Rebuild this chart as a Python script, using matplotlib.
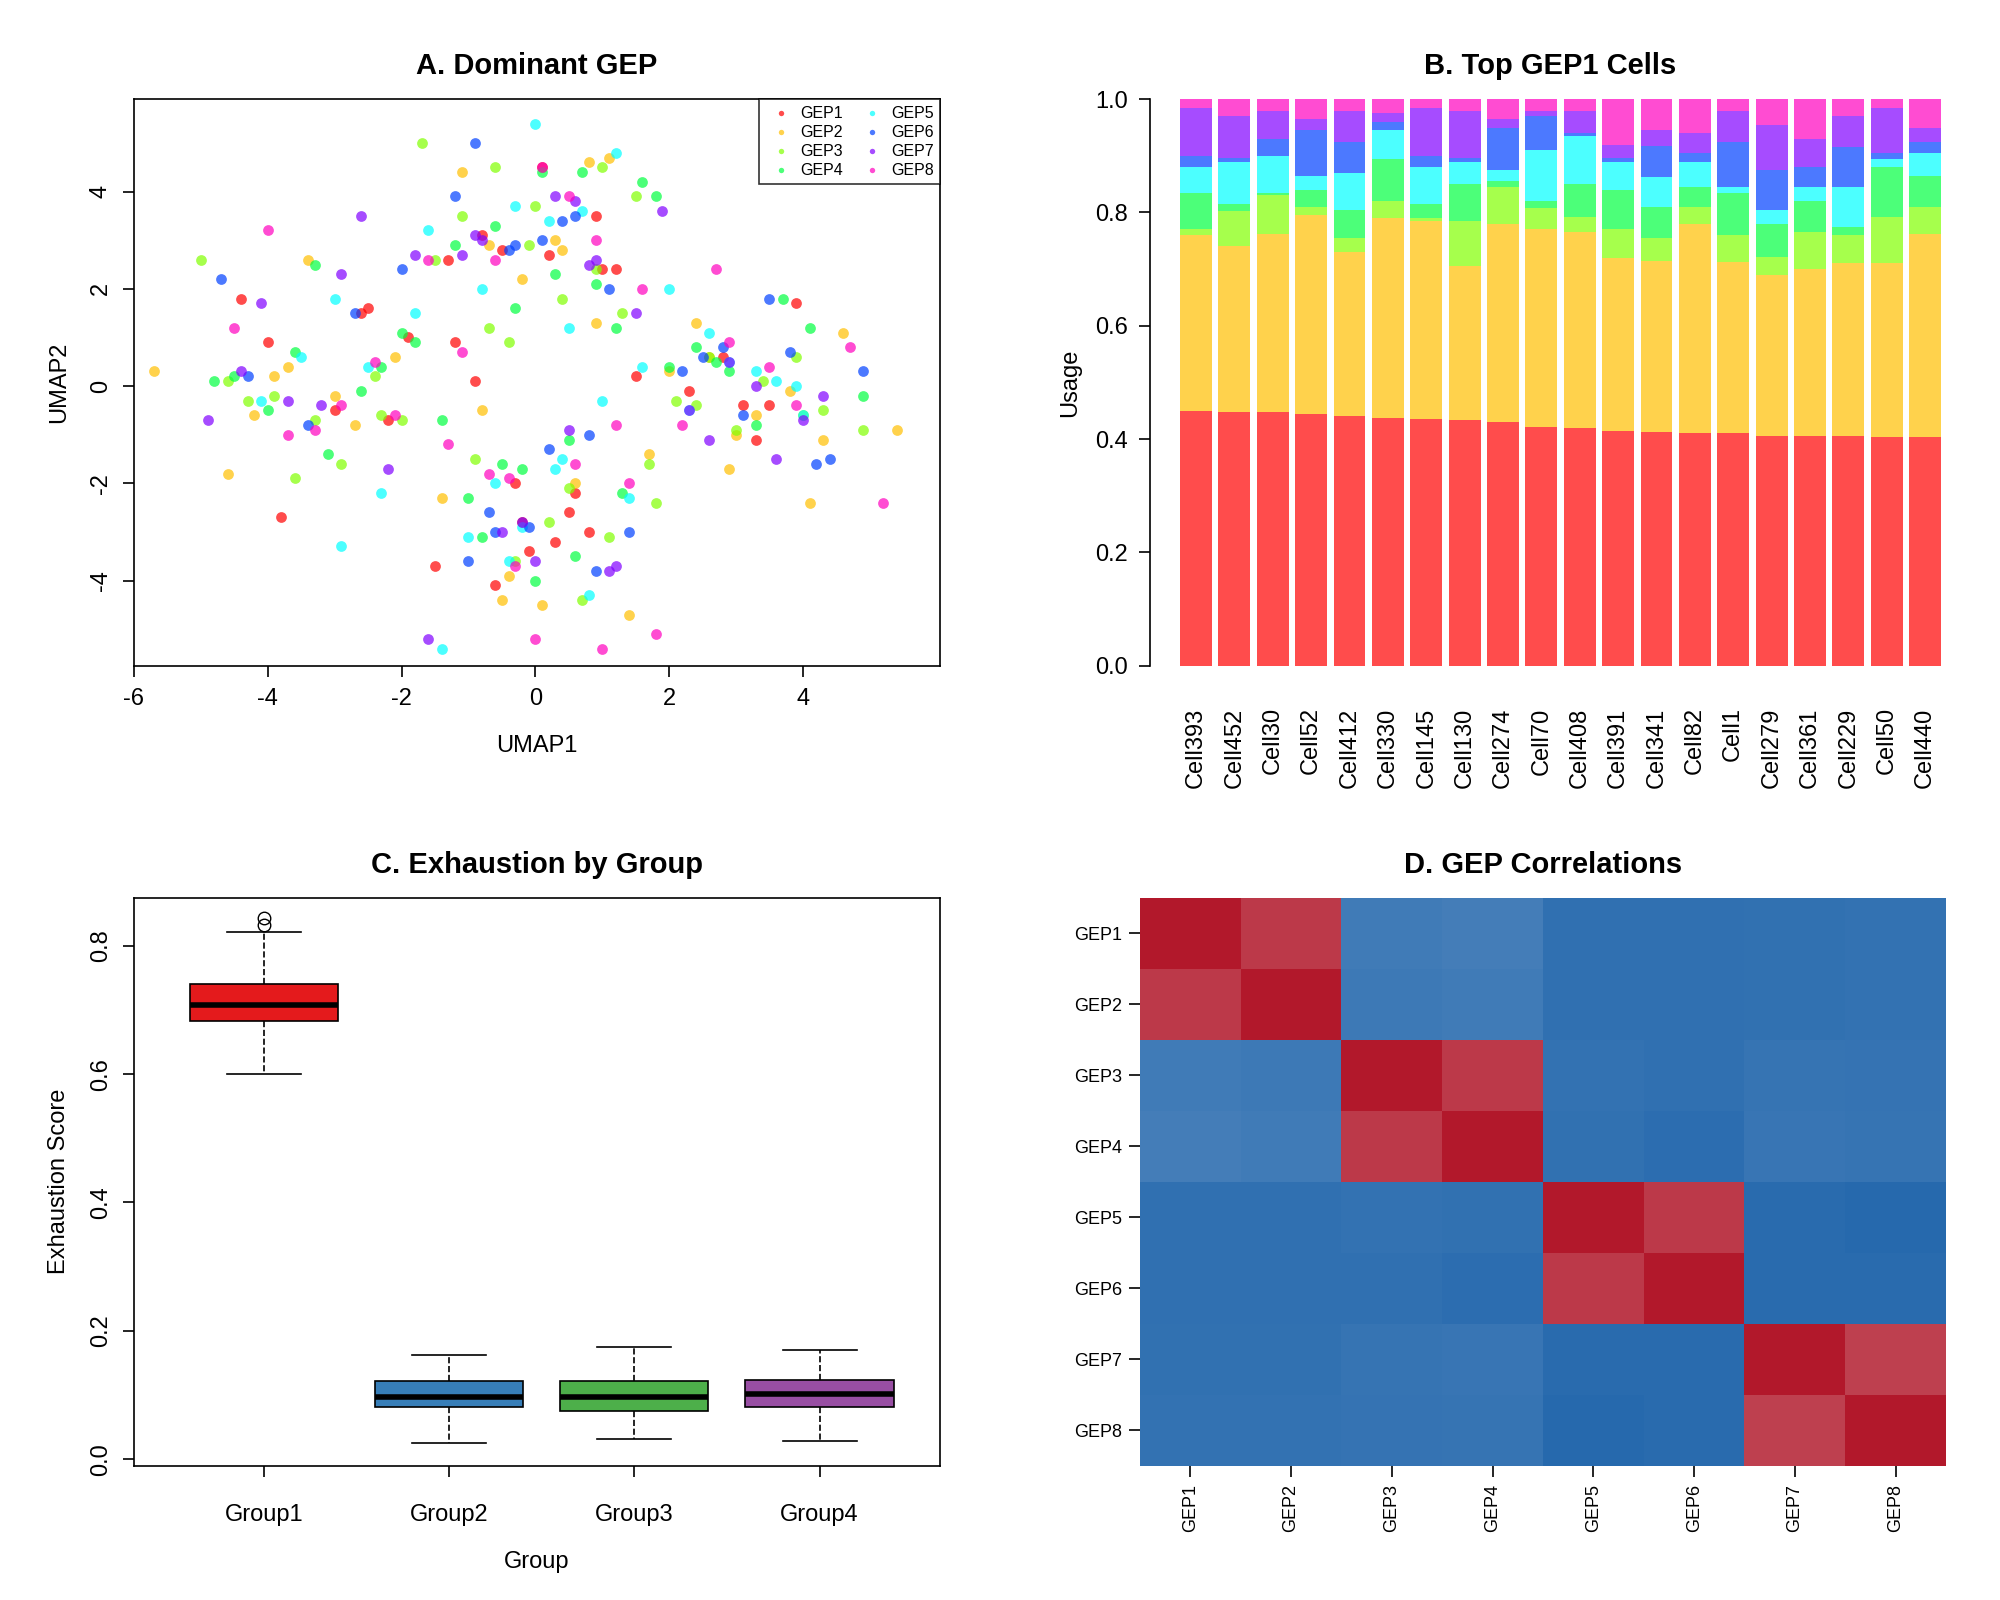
import numpy as np
import matplotlib.pyplot as plt
from matplotlib.colors import LinearSegmentedColormap

plt.rcParams['font.family'] = ['Liberation Sans', 'DejaVu Sans']
plt.rcParams['axes.unicode_minus'] = False

geps = ['GEP1', 'GEP2', 'GEP3', 'GEP4', 'GEP5', 'GEP6', 'GEP7', 'GEP8']
gep_colors = ['#FF0000', '#FFBF00', '#80FF00', '#00FF40', '#00FFFF', '#0040FF', '#8000FF', '#FF00BF']

# UMAP points per dominant GEP (read approximately)
umap_x = {
    'GEP1': [-4.4, -3.8, -2.5, -1.3, -0.5, 0.1, 0.9, 1.2, 2.8, 3.1, 3.3, -0.2, -0.6, -1.5, 0.3, 1.5, -2.2, -4.0, 3.9, -0.9, 0.6, -0.3,
             -3.0, -1.9, -0.8, 0.2, 0.5, 1.0, 2.3, 3.5, -2.6, -0.1, 0.8, -1.2],
    'GEP2': [-5.7, -4.2, -3.4, -2.1, -0.7, -0.2, 0.3, 0.8, 1.7, 2.4, 3.3, 4.3, 5.4, 0.1, -0.4, 2.9, 4.1, -1.4, 0.9, -3.0, 1.4, -0.8,
             -4.6, -3.7, -2.7, -1.1, 0.4, 1.1, 2.0, 3.0, 3.8, 4.6, -0.5, 0.6, -3.9, 2.6],
    'GEP3': [-5.0, -4.6, -3.9, -2.9, -2.3, -1.7, -1.1, -0.6, -0.4, 0.0, 0.4, 1.0, 1.5, 2.1, 2.6, 3.4, 4.0, 4.9, 1.8, -0.9, 0.2, -3.3, 0.7, 1.1,
             -4.3, -3.6, -2.4, -1.5, -0.7, -0.1, 0.9, 1.3, 2.4, 3.0, 3.9, 4.3, -2.0, -0.3, 0.5, 1.7],
    'GEP4': [-4.5, -3.6, -3.3, -2.6, -2.0, -1.2, -0.8, -0.3, 0.3, 0.7, 1.2, 1.8, 2.0, 2.9, 3.7, 4.9, -1.0, 0.0, 1.3, 2.4, -4.0, -0.5, 0.5,
             -4.8, -3.1, -2.3, -1.4, -0.6, 0.1, 0.9, 1.6, 2.7, 3.3, 4.1, -0.2, 0.6, -1.8],
    'GEP5': [-3.5, -2.9, -2.3, -1.8, -1.4, -0.8, -0.3, 0.0, 0.5, 1.2, 1.6, 2.0, 2.6, 3.3, 4.0, 0.3, -0.2, 1.0, -1.0, 0.8, -2.5, 3.6,
             -4.1, -3.0, -1.6, -0.6, 0.2, 0.7, 1.4, 2.3, 2.9, 3.9, -0.4, 0.4],
    'GEP6': [-4.7, -4.3, -2.7, -1.2, -0.9, -0.4, 0.1, 0.6, 1.1, 2.2, 2.8, 3.5, 4.2, 4.9, -0.1, 0.8, -0.6, 0.2, -1.0, 3.1,
             -3.4, -2.0, -0.7, 0.4, 1.4, 2.5, 3.8, 0.9, -0.3, 4.4],
    'GEP7': [-4.9, -4.1, -3.7, -2.6, -1.8, -0.8, 0.3, 0.8, 1.5, 1.9, 2.3, 3.6, 4.3, -0.2, 0.5, -1.6, 2.9, -2.9, 0.0, 1.1,
             -4.4, -3.2, -2.2, -1.1, -0.5, 0.6, 1.2, 2.6, 3.3, 0.9, -0.9, 4.0],
    'GEP8': [-4.0, -3.7, -2.9, -2.1, -1.6, -0.7, 0.1, 0.9, 1.4, 1.8, 2.7, 3.5, 4.7, 5.2, -0.3, 0.6, -1.1, 2.2, -0.4, 1.2,
             -4.5, -3.3, -2.4, -1.3, 0.0, 0.5, 1.6, 2.9, 3.9, -0.6, 1.0],
}
umap_y = {
    'GEP1': [1.8, -2.7, 1.6, 2.6, 2.8, 4.5, 3.5, 2.4, 0.6, -0.4, -1.1, -2.8, -4.1, -3.7, -3.2, 0.2, -0.7, 0.9, 1.7, 0.1, -2.2, -2.0,
             -0.5, 1.0, 3.1, 2.7, -2.6, 2.4, -0.1, -0.4, 1.5, -3.4, -3.0, 0.9],
    'GEP2': [0.3, -0.6, 2.6, 0.6, 2.9, 2.2, 3.0, 4.6, -1.4, 1.3, -0.6, -1.1, -0.9, -4.5, -3.9, -1.7, -2.4, -2.3, 1.3, -0.2, -4.7, -0.5,
             -1.8, 0.4, -0.8, 4.4, 2.8, 4.7, 0.3, -1.0, -0.1, 1.1, -4.4, -2.0, 0.2, 0.6],
    'GEP3': [2.6, 0.1, -0.2, -1.6, -0.6, 5.0, 3.5, 4.5, 0.9, 3.7, 1.8, 4.5, 3.9, -0.3, 0.6, 0.1, -0.6, -0.9, -2.4, -1.5, -2.8, -0.7, -4.4, -3.1,
             -0.3, -1.9, 0.2, 2.6, 1.2, 2.9, 2.4, 1.5, -0.4, -0.9, 0.6, -0.5, -0.7, -3.6, -2.1, -1.6],
    'GEP4': [0.2, 0.7, 2.5, -0.1, 1.1, 2.9, -3.1, 1.6, 2.3, 4.4, 1.2, 3.9, 0.4, 0.3, 1.8, -0.2, -2.3, -4.0, -2.2, 0.8, -0.5, -1.6, -1.1,
             0.1, -1.4, 0.4, -0.7, 3.3, 4.4, 2.1, 4.2, 0.5, -0.8, 1.2, -1.7, -3.5, 0.9],
    'GEP5': [0.6, -3.3, -2.2, 1.5, -5.4, 2.0, 3.7, 5.4, 1.2, 4.8, 0.4, 2.0, 1.1, 0.3, -0.6, -1.7, -2.9, -0.3, -3.1, -4.3, 0.4, 0.1,
             -0.3, 1.8, 3.2, -2.0, 3.4, 3.6, -2.3, -0.5, 0.5, 0.0, -3.6, -1.5],
    'GEP6': [2.2, 0.2, 1.5, 3.9, 5.0, 2.8, 3.0, 3.5, 2.0, 0.3, 0.8, 1.8, -1.6, 0.3, -2.9, -1.0, -3.0, -1.3, -3.6, -0.6,
             -0.8, 2.4, -2.6, 3.4, -3.0, 0.6, 0.7, -3.8, 2.9, -1.5],
    'GEP7': [-0.7, 1.7, -0.3, 3.5, 2.7, 3.0, 3.9, 2.5, 1.5, 3.6, -0.5, -1.5, -0.2, -2.8, -0.9, -5.2, 0.5, 2.3, -3.6, -3.8,
             0.3, -0.4, -1.7, 2.7, -3.0, 3.8, -3.7, -1.1, 0.0, 2.6, 3.1, -0.7],
    'GEP8': [3.2, -1.0, -0.4, -0.6, 2.6, -1.8, 4.5, 3.0, -2.0, -5.1, 2.4, 0.4, 0.8, -2.4, -3.7, -1.6, 0.7, -0.8, -1.9, -0.8,
             1.2, -0.9, 0.5, -1.2, -5.2, 3.9, 2.0, 0.9, -0.4, 2.6, -5.4],
}

# Panel B: top GEP1 cells, cumulative usage of GEP1..GEP7 (GEP8 fills to 1)
cells = ['Cell393', 'Cell452', 'Cell30', 'Cell52', 'Cell412', 'Cell330', 'Cell145', 'Cell130', 'Cell274', 'Cell70',
         'Cell408', 'Cell391', 'Cell341', 'Cell82', 'Cell1', 'Cell279', 'Cell361', 'Cell229', 'Cell50', 'Cell440']
usage_cum = [
    [.450, .760, .770, .835, .880, .900, .985],
    [.448, .740, .802, .815, .890, .896, .970],
    [.447, .762, .830, .835, .900, .930, .980],
    [.445, .795, .810, .840, .865, .945, .965],
    [.441, .730, .755, .805, .870, .925, .980],
    [.437, .790, .820, .895, .945, .960, .975],
    [.435, .785, .790, .815, .880, .900, .985],
    [.434, .705, .785, .850, .890, .896, .980],
    [.430, .780, .845, .855, .875, .950, .965],
    [.421, .770, .808, .820, .910, .970, .980],
    [.420, .765, .792, .850, .935, .940, .980],
    [.415, .720, .770, .840, .890, .896, .920],
    [.413, .715, .755, .810, .862, .918, .945],
    [.411, .780, .810, .845, .890, .905, .940],
    [.410, .712, .760, .835, .845, .925, .980],
    [.406, .690, .722, .780, .805, .875, .955],
    [.405, .700, .765, .820, .845, .880, .930],
    [.405, .710, .760, .775, .845, .915, .970],
    [.403, .710, .792, .880, .895, .905, .985],
    [.403, .762, .810, .865, .905, .925, .950],
]

# Panel C: box statistics per group
groups = ['Group1', 'Group2', 'Group3', 'Group4']
box_lo_whisk = [0.600, 0.025, 0.032, 0.028]
box_q1 = [0.682, 0.082, 0.075, 0.082]
box_med = [0.708, 0.097, 0.097, 0.102]
box_q3 = [0.740, 0.122, 0.122, 0.124]
box_hi_whisk = [0.822, 0.162, 0.175, 0.170]
box_outliers = [[0.843, 0.832], [], [], []]
group_colors = ['#E41A1C', '#377EB8', '#4DAF4A', '#984EA3']

# Panel D: GEP correlation matrix
corr = np.array([
    [1.00, 0.90, -0.20, -0.19, -0.25, -0.25, -0.245, -0.24],
    [0.90, 1.00, -0.21, -0.20, -0.25, -0.25, -0.245, -0.24],
    [-0.20, -0.21, 1.00, 0.90, -0.24, -0.25, -0.23, -0.235],
    [-0.19, -0.20, 0.90, 1.00, -0.245, -0.26, -0.225, -0.23],
    [-0.25, -0.25, -0.24, -0.245, 1.00, 0.90, -0.27, -0.28],
    [-0.25, -0.25, -0.25, -0.26, 0.90, 1.00, -0.27, -0.27],
    [-0.245, -0.245, -0.23, -0.225, -0.27, -0.27, 1.00, 0.88],
    [-0.24, -0.24, -0.235, -0.23, -0.28, -0.27, 0.88, 1.00],
])

fig = plt.figure(figsize=(20, 16), dpi=100)
title_kw = dict(fontsize=21, fontweight='bold', pad=18)
FS = 17


def r_style(ax):
    ax.tick_params(direction='out', length=8, width=1.2, labelsize=FS, pad=8)


# A. scatter
ax = fig.add_axes([0.067, 0.584, 0.403, 0.354])
for g, c in zip(geps, gep_colors):
    ax.scatter(umap_x[g], umap_y[g], s=60, color=c, alpha=0.7, linewidths=0, label=g)
ax.set_xlim(-5.95, 6.05)
ax.set_ylim(-5.75, 5.9)
ax.set_xticks([-6, -4, -2, 0, 2, 4])
ax.set_yticks([-4, -2, 0, 2, 4])
for s in ax.spines.values():
    s.set_linewidth(1.2)
r_style(ax)
plt.setp(ax.get_yticklabels(), rotation=90, va='center')
ax.set_xlabel('UMAP1', fontsize=FS, labelpad=18)
ax.set_ylabel('UMAP2', fontsize=FS, labelpad=14)
ax.set_title('A. Dominant GEP', **title_kw)
leg = ax.legend(ncol=2, loc='upper right', fontsize=11.5, markerscale=0.5, handletextpad=0.2,
                columnspacing=0.8, labelspacing=0.25, borderaxespad=0, fancybox=False, edgecolor='black')
leg.get_frame().set_linewidth(1.2)

# B. stacked bars
ax = fig.add_axes([0.575, 0.584, 0.40, 0.354])
xpos = np.arange(len(cells))
cum = np.hstack([np.array(usage_cum), np.ones((len(cells), 1))])
prev = np.zeros(len(cells))
for k, c in enumerate(gep_colors):
    ax.bar(xpos, cum[:, k] - prev, bottom=prev, width=0.83, color=c, alpha=0.7, linewidth=0)
    prev = cum[:, k]
ax.set_xlim(-1.2, len(cells) - 0.35)
ax.set_ylim(0, 1.0)
ax.spines['top'].set_visible(False)
ax.spines['right'].set_visible(False)
ax.spines['bottom'].set_visible(False)
ax.spines['left'].set_linewidth(1.2)
ax.set_yticks([0, 0.2, 0.4, 0.6, 0.8, 1.0])
ax.set_yticklabels(['0.0', '0.2', '0.4', '0.6', '0.8', '1.0'])
ax.set_xticks(xpos)
ax.set_xticklabels(cells, rotation=90)
r_style(ax)
ax.tick_params(axis='x', length=0, pad=30)
ax.set_ylabel('Usage', fontsize=FS, labelpad=10)
ax.set_title('B. Top GEP1 Cells', **title_kw)

# C. boxplot
ax = fig.add_axes([0.067, 0.084, 0.403, 0.355])
stats = []
for i in range(len(groups)):
    stats.append(dict(whislo=box_lo_whisk[i], q1=box_q1[i], med=box_med[i], q3=box_q3[i],
                      whishi=box_hi_whisk[i], fliers=box_outliers[i]))
bp = ax.bxp(stats, positions=[1, 2, 3, 4], widths=0.8, patch_artist=True, showfliers=True,
            boxprops=dict(linewidth=1.2), medianprops=dict(color='black', linewidth=4),
            whiskerprops=dict(linestyle='--', linewidth=1.2), capprops=dict(linewidth=1.2),
            flierprops=dict(marker='o', markerfacecolor='none', markeredgecolor='black', markersize=9))
for patch, c in zip(bp['boxes'], group_colors):
    patch.set_facecolor(c)
for cap in bp['caps']:
    m = np.mean(cap.get_xdata())
    cap.set_xdata([m - 0.2, m + 0.2])
ax.set_xlim(0.3, 4.65)
ax.set_ylim(-0.01, 0.875)
ax.set_xticks([1, 2, 3, 4])
ax.set_xticklabels(groups)
ax.set_yticks([0, 0.2, 0.4, 0.6, 0.8])
ax.set_yticklabels(['0.0', '0.2', '0.4', '0.6', '0.8'])
for s in ax.spines.values():
    s.set_linewidth(1.2)
r_style(ax)
ax.tick_params(axis='x', pad=20)
plt.setp(ax.get_yticklabels(), rotation=90, va='center')
ax.set_xlabel('Group', fontsize=FS, labelpad=18)
ax.set_ylabel('Exhaustion Score', fontsize=FS, labelpad=14)
ax.set_title('C. Exhaustion by Group', **title_kw)

# D. heatmap
ax = fig.add_axes([0.570, 0.084, 0.403, 0.355])
cmap = LinearSegmentedColormap.from_list('rb', ['#2166AC', '#F7F7F7', '#B2182B'])
ax.imshow(corr, cmap=cmap, vmin=-0.3, vmax=1.0, aspect='auto', interpolation='nearest')
for s in ax.spines.values():
    s.set_visible(False)
ax.set_xticks(range(8))
ax.set_yticks(range(8))
ax.set_xticklabels(geps, rotation=90, fontsize=13)
ax.set_yticklabels(geps, fontsize=13)
ax.tick_params(direction='out', length=8, width=1.2, pad=5)
ax.set_title('D. GEP Correlations', **title_kw)

fig.savefig('out.png', dpi=100)
